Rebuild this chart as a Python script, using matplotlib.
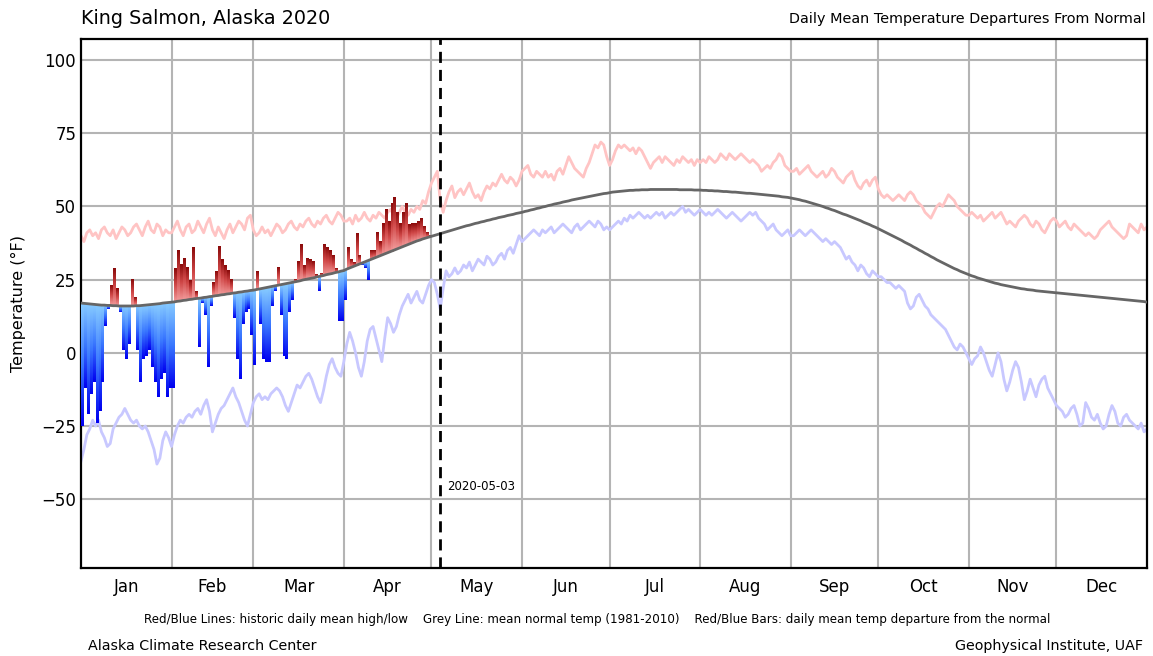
import numpy as np
import matplotlib
matplotlib.use("Agg")
import matplotlib.pyplot as plt
from matplotlib.colors import LinearSegmentedColormap

# mean normal temp (1981-2010), one value per day of 2020, by month
normal_by_month = [
    [17.0, 16.9, 16.8, 16.7, 16.6, 16.5, 16.4, 16.3, 16.3, 16.2, 16.2, 16.1, 16.1, 16.0, 16.0, 16.0,
     16.0, 16.0, 16.0, 16.1, 16.1, 16.2, 16.3, 16.4, 16.5, 16.6, 16.7, 16.8, 17.0, 17.1, 17.2],
    [17.3, 17.4, 17.6, 17.7, 17.9, 18.0, 18.2, 18.3, 18.5, 18.6, 18.7, 18.9, 19.0, 19.2, 19.3,
     19.5, 19.6, 19.8, 19.9, 20.1, 20.2, 20.4, 20.5, 20.7, 20.8, 21.0, 21.1, 21.3, 21.4],
    [21.6, 21.8, 22.0, 22.2, 22.4, 22.6, 22.8, 23.0, 23.2, 23.4, 23.6, 23.8, 24.0, 24.2, 24.4, 24.6,
     24.9, 25.1, 25.3, 25.5, 25.7, 26.0, 26.2, 26.4, 26.7, 26.9, 27.1, 27.4, 27.6, 27.9, 28.1],
    [28.6, 29.0, 29.4, 29.8, 30.2, 30.6, 31.0, 31.4, 31.8, 32.2, 32.6, 33.0, 33.4, 33.8, 34.2,
     34.6, 35.0, 35.4, 35.8, 36.2, 36.6, 37.0, 37.4, 37.8, 38.2, 38.5, 38.9, 39.2, 39.5, 39.8],
    [40.1, 40.4, 40.7, 41.0, 41.3, 41.6, 41.9, 42.2, 42.5, 42.8, 43.1, 43.4, 43.6, 43.9, 44.2, 44.4,
     44.7, 44.9, 45.2, 45.4, 45.7, 45.9, 46.2, 46.4, 46.6, 46.9, 47.1, 47.3, 47.6, 47.8, 48.0],
    [48.3, 48.5, 48.8, 49.0, 49.3, 49.5, 49.8, 50.0, 50.3, 50.5, 50.8, 51.0, 51.2, 51.5, 51.7,
     51.9, 52.2, 52.4, 52.6, 52.8, 53.0, 53.2, 53.4, 53.6, 53.8, 54.0, 54.2, 54.4, 54.5, 54.7],
    [54.9, 55.0, 55.1, 55.2, 55.3, 55.4, 55.5, 55.5, 55.6, 55.6, 55.7, 55.7, 55.7, 55.8, 55.8, 55.8,
     55.8, 55.8, 55.8, 55.8, 55.8, 55.8, 55.8, 55.7, 55.7, 55.7, 55.7, 55.7, 55.6, 55.6, 55.6],
    [55.5, 55.5, 55.4, 55.4, 55.3, 55.3, 55.2, 55.1, 55.1, 55.0, 54.9, 54.9, 54.8, 54.7, 54.6, 54.5,
     54.5, 54.4, 54.3, 54.2, 54.1, 54.0, 53.9, 53.8, 53.7, 53.6, 53.5, 53.3, 53.2, 53.1, 52.9],
    [52.7, 52.5, 52.3, 52.0, 51.8, 51.5, 51.2, 50.9, 50.6, 50.3, 50.0, 49.6, 49.3, 48.9, 48.6,
     48.2, 47.8, 47.4, 47.1, 46.7, 46.3, 45.9, 45.5, 45.1, 44.6, 44.2, 43.8, 43.3, 42.9, 42.4],
    [41.9, 41.4, 40.9, 40.4, 39.9, 39.4, 38.9, 38.4, 37.8, 37.3, 36.8, 36.2, 35.7, 35.1, 34.6, 34.0,
     33.5, 32.9, 32.4, 31.8, 31.3, 30.8, 30.3, 29.8, 29.3, 28.8, 28.4, 27.9, 27.5, 27.1, 26.7],
    [26.3, 26.0, 25.6, 25.3, 25.0, 24.7, 24.4, 24.1, 23.8, 23.6, 23.3, 23.1, 22.9, 22.7, 22.5,
     22.3, 22.1, 21.9, 21.8, 21.6, 21.5, 21.4, 21.2, 21.1, 21.0, 20.9, 20.8, 20.7, 20.6, 20.5],
    [20.4, 20.3, 20.2, 20.1, 20.0, 19.9, 19.8, 19.7, 19.6, 19.5, 19.4, 19.3, 19.2, 19.1, 19.0, 18.9,
     18.8, 18.7, 18.6, 18.5, 18.4, 18.3, 18.2, 18.1, 18.0, 17.9, 17.8, 17.7, 17.6, 17.5, 17.3],
]

# historic daily mean high (red line)
high_by_month = [
    [40, 38, 41, 42, 40, 41, 39, 42, 43, 41, 40, 42, 39, 41, 43, 42, 40, 41, 43, 44, 42, 40, 43, 45, 42, 41, 44, 43, 40, 42, 41],
    [41, 43, 45, 42, 40, 43, 44, 41, 42, 45, 43, 41, 44, 46, 42, 40, 43, 41, 39, 42, 44, 41, 43, 45, 44, 42, 46, 47, 42],
    [40, 41, 43, 41, 42, 40, 42, 44, 43, 41, 42, 44, 45, 43, 42, 44, 43, 45, 46, 44, 43, 45, 44, 46, 47, 45, 44, 46, 48, 47, 45],
    [45, 46, 44, 47, 45, 46, 48, 46, 45, 47, 46, 48, 47, 46, 48, 49, 47, 46, 48, 50, 48, 47, 49, 48, 50, 49, 52, 51, 55, 58],
    [60, 62, 52, 48, 52, 55, 57, 53, 55, 56, 54, 56, 58, 55, 53, 54, 52, 55, 57, 56, 58, 57, 59, 61, 59, 58, 60, 59, 57, 59, 62],
    [63, 64, 61, 60, 62, 61, 60, 62, 60, 61, 59, 62, 63, 61, 64, 67, 65, 63, 62, 61, 60, 63, 65, 68, 71, 70, 72, 71, 67, 64],
    [66, 69, 71, 70, 71, 70, 69, 70, 68, 70, 69, 67, 65, 63, 65, 66, 67, 65, 67, 66, 65, 64, 66, 65, 67, 66, 65, 66, 64, 66, 65],
    [66, 65, 67, 66, 65, 66, 68, 67, 66, 68, 67, 66, 67, 68, 67, 66, 65, 66, 65, 64, 62, 63, 64, 63, 65, 66, 68, 67, 64, 63, 62],
    [62, 63, 61, 62, 63, 64, 62, 61, 60, 61, 62, 60, 61, 63, 62, 60, 59, 58, 60, 61, 62, 59, 57, 56, 58, 59, 57, 59, 60, 56],
    [54, 53, 54, 53, 52, 53, 54, 53, 52, 54, 55, 54, 52, 51, 50, 48, 47, 46, 48, 50, 51, 50, 52, 54, 53, 52, 50, 49, 48, 47, 47],
    [48, 47, 46, 47, 45, 46, 47, 48, 46, 47, 48, 46, 44, 45, 44, 43, 45, 46, 47, 46, 44, 43, 45, 44, 42, 41, 43, 45, 46, 45],
    [43, 44, 45, 43, 42, 44, 43, 42, 41, 40, 41, 40, 39, 40, 42, 43, 44, 45, 43, 42, 41, 40, 39, 40, 44, 43, 42, 41, 44, 42, 43],
]

# historic daily mean low (blue line)
low_by_month = [
    [-37, -33, -28, -26, -23, -25, -23, -27, -29, -32, -31, -26, -24, -22, -21, -19, -21, -23, -24, -23, -25, -26, -25, -27, -30, -33, -38, -36, -30, -27, -29],
    [-32, -28, -25, -23, -24, -22, -21, -22, -20, -19, -21, -18, -16, -20, -27, -24, -21, -19, -18, -16, -14, -12, -15, -17, -20, -23, -25, -21, -17],
    [-15, -14, -16, -15, -16, -14, -13, -12, -13, -15, -18, -20, -17, -14, -11, -12, -10, -8, -7, -9, -12, -15, -17, -13, -8, -4, -2, -5, -7, -8, -3],
    [3, 7, 4, 0, -5, -8, -3, 4, 8, 9, 5, 1, -3, 5, 12, 10, 7, 9, 13, 16, 18, 20, 17, 19, 21, 18, 17, 20, 23, 25],
    [24, 20, 15, 22, 28, 26, 27, 29, 27, 28, 30, 29, 31, 28, 30, 32, 31, 30, 33, 32, 30, 31, 33, 34, 32, 35, 36, 34, 37, 40, 38],
    [39, 40, 41, 42, 41, 40, 42, 41, 42, 43, 41, 42, 43, 44, 43, 42, 41, 43, 44, 42, 43, 44, 45, 44, 43, 45, 44, 42, 43, 42],
    [43, 44, 45, 44, 46, 45, 47, 46, 47, 48, 47, 46, 47, 46, 47, 48, 47, 48, 46, 47, 48, 47, 48, 49, 50, 48, 49, 48, 47, 48, 49],
    [48, 47, 48, 47, 48, 49, 48, 47, 46, 47, 48, 47, 46, 45, 46, 47, 48, 47, 48, 46, 45, 44, 42, 43, 44, 42, 41, 40, 41, 42, 40],
    [40, 41, 42, 41, 40, 41, 42, 41, 40, 39, 38, 39, 38, 37, 38, 37, 36, 34, 32, 33, 31, 30, 28, 30, 29, 27, 26, 28, 27, 26],
    [26, 25, 24, 24, 23, 22, 23, 22, 21, 17, 15, 16, 19, 20, 18, 16, 15, 13, 12, 11, 10, 9, 8, 6, 4, 2, 1, 3, 2, 0, -2],
    [-4, -2, -1, 2, 0, -3, -6, -8, -4, 0, -3, -9, -13, -10, -6, -3, -5, -10, -16, -13, -9, -12, -15, -11, -9, -8, -12, -14, -16, -18],
    [-19, -20, -22, -21, -19, -18, -21, -25, -24, -17, -19, -22, -23, -21, -24, -26, -25, -21, -18, -20, -24, -25, -22, -21, -23, -24, -25, -26, -24, -27, -26],
]

# observed daily mean temperature, 2020-01-01 .. 2020-05-02
obs_jan = [-25, -12, -21, -14, -10, -24, -20, -10, 9, 15, 23, 29, 22, 14, 1, -2, 3, 25, 19, 1,
           -10, -2, -1, 1, -5, -10, -15, -9, -7, -15, -12]
obs_feb = [-12, 29, 35, 30, 32, 29, 25, 36, 21, 2, 17, 13, -5, 16, 24, 28, 36, 32, 30, 28,
           25, 12, -2, -9, 10, 14, 15, 6, -4]
obs_mar = [28, 10, -2, -3, -3, 16, 21, 29, 13, -1, -2, 14, 18, 25, 31, 37, 30, 32, 32, 31,
           27, 21, 27, 37, 36, 35, 33, 29, 11, 11, 18]
obs_apr = [36, 32, 31, 41, 33, 30, 29, 25, 35, 35, 41, 38, 44, 49, 45, 51, 53, 48, 44, 48,
           51, 44, 44, 44, 45, 46, 43, 41, 40, 39.5]
obs_may = [40.3, 40.6]

month_names = ['Jan', 'Feb', 'Mar', 'Apr', 'May', 'Jun', 'Jul', 'Aug', 'Sep', 'Oct', 'Nov', 'Dec']
month_days = [31, 28, 31, 30, 31, 30, 31, 31, 30, 31, 30, 31]
last_date = '2020-05-03'
last_day = 123

normal = np.concatenate(normal_by_month)
high = np.concatenate(high_by_month)
low = np.concatenate(low_by_month)
obs = np.array(obs_jan + obs_feb + obs_mar + obs_apr + obs_may, dtype=float)
days = np.arange(len(normal))
obs_days = np.arange(len(obs))
dep = obs - normal[:len(obs)]

edges = np.cumsum([0] + month_days)
mids = (edges[:-1] + edges[1:]) / 2

red_cmap = LinearSegmentedColormap.from_list('reds', ['#f29a9a', '#d04848', '#8a0a0a'])
blue_cmap = LinearSegmentedColormap.from_list('blues', ['#86caff', '#3a78ff', '#0000f0'])

fig = plt.figure(figsize=(11.53, 6.56), dpi=100)
ax = fig.add_axes([81 / 1153, 1 - 568 / 656, 1066 / 1153, 529 / 656])

ax.plot(days, high, color='#ffc4c4', lw=2, zorder=2)
ax.plot(days, low, color='#c8c8ff', lw=2, zorder=2)

# departure bars, each filled with a vertical gradient from the normal to the tip
bars = ax.bar(obs_days, dep, bottom=normal[:len(obs)], width=1.0, align='edge',
              color='none', edgecolor='none', zorder=3)
grad = np.linspace(0, 1, 100).reshape(-1, 1)
for b, d in zip(bars, dep):
    x0, y0 = b.get_x(), b.get_y()
    cmap = red_cmap if d > 0 else blue_cmap
    ax.imshow(grad, cmap=cmap, origin='lower', aspect='auto', interpolation='bilinear',
              extent=(x0, x0 + b.get_width(), y0, y0 + b.get_height()), zorder=3)

ax.plot(days, normal, color='#666666', lw=2, zorder=4)
ax.axvline(last_day, color='black', lw=2, ls=(0, (4, 2.5)), zorder=5)
ax.text(last_day + 2.3, -45.5, last_date, fontsize=8.5, va='center', ha='left')

ax.set_xlim(0, 365)
ax.set_ylim(-73.5, 107.2)
ax.set_yticks([-50, -25, 0, 25, 50, 75, 100])
ax.set_xticks(mids)
ax.set_xticklabels(month_names)
ax.set_xticks(edges[1:-1], minor=True)
ax.tick_params(axis='both', which='both', length=0, labelsize=12)
ax.tick_params(axis='x', pad=7)
ax.grid(True, axis='y', color='#b4b4b4', lw=1.5, zorder=0)
ax.grid(True, axis='x', which='minor', color='#b4b4b4', lw=1.5, zorder=0)
ax.set_axisbelow(True)
for s in ax.spines.values():
    s.set_linewidth(1.6)
    s.set_color('black')
ax.set_ylabel('Temperature (°F)', fontsize=11.5, labelpad=11)

fig.text(81 / 1153, 1 - 19 / 656, 'King Salmon, Alaska 2020', fontsize=13.8, ha='left', va='center')
fig.text(1146 / 1153, 1 - 19 / 656, 'Daily Mean Temperature Departures From Normal', fontsize=10.35,
         ha='right', va='center')
fig.text(597 / 1153, 1 - 620 / 656,
         'Red/Blue Lines: historic daily mean high/low    Grey Line: mean normal temp (1981-2010)    '
         'Red/Blue Bars: daily mean temp departure from the normal', fontsize=8.55, ha='center', va='center')
fig.text(88 / 1153, 1 - 646 / 656, 'Alaska Climate Research Center', fontsize=10.3, ha='left', va='center')
fig.text(1143 / 1153, 1 - 646 / 656, 'Geophysical Institute, UAF', fontsize=10.3, ha='right', va='center')

fig.savefig('out.png', dpi=100)
